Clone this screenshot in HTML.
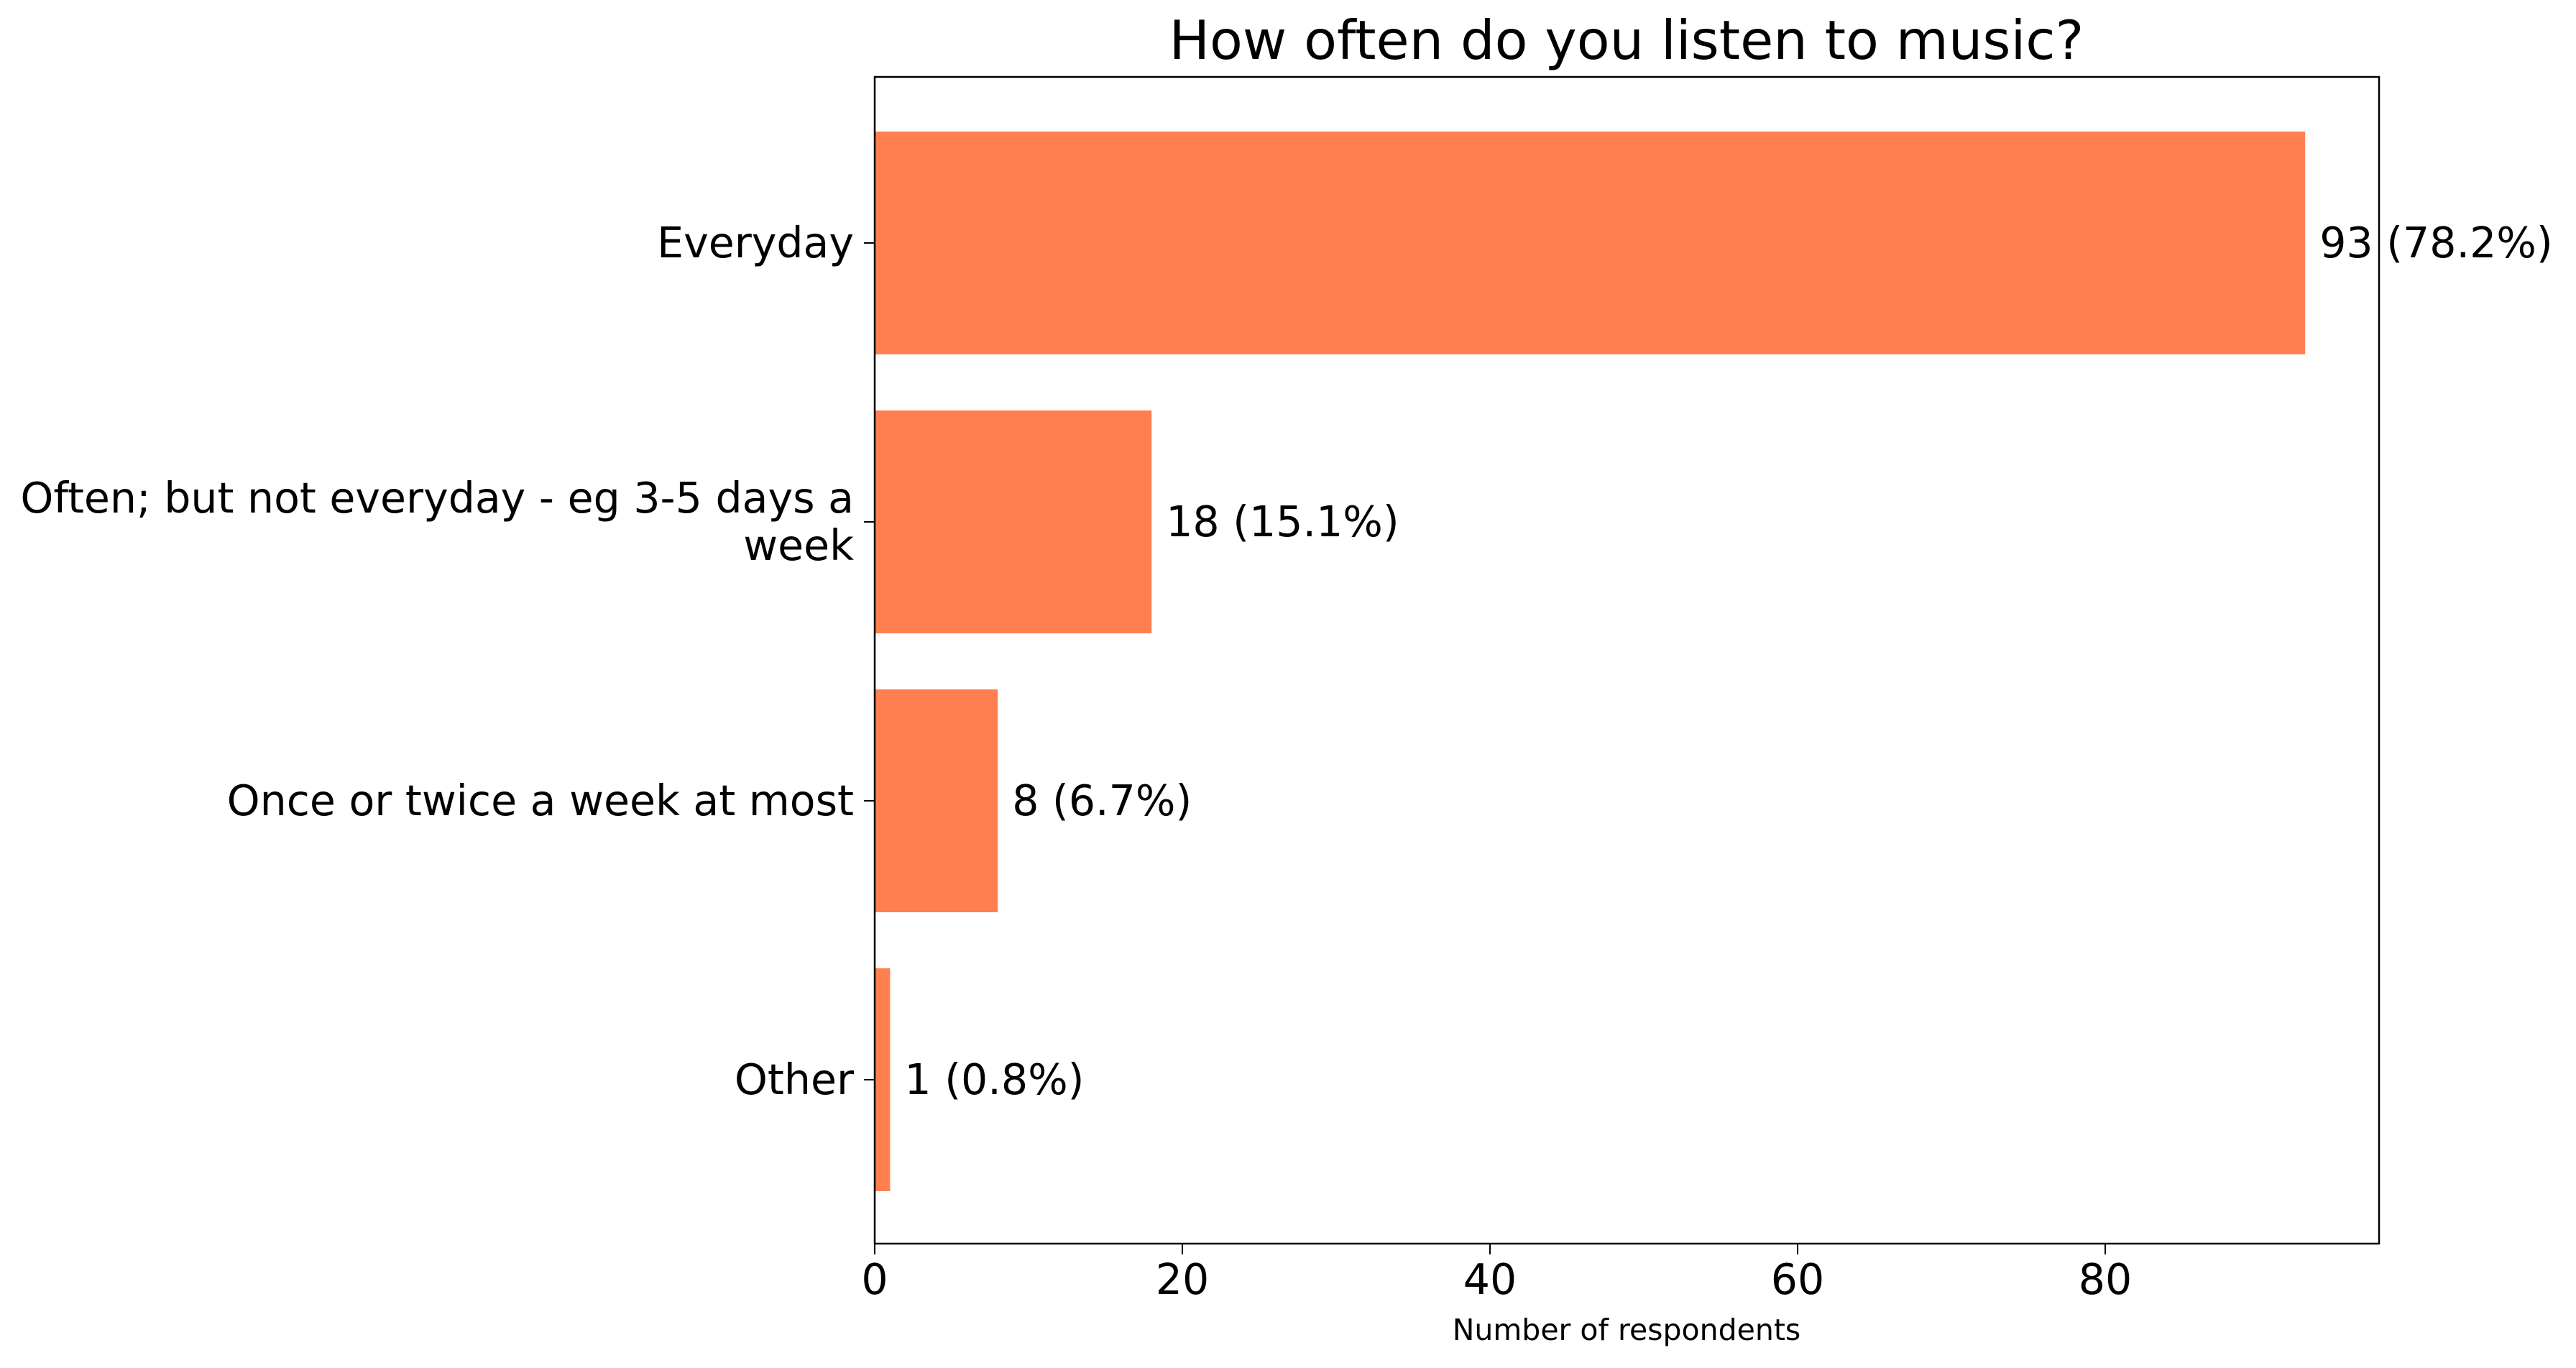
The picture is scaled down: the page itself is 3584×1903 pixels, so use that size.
<!DOCTYPE html>
<html><head><meta charset="utf-8"><style>
html,body{margin:0;padding:0;background:#fff;}
svg{display:block;font-family:"DejaVu Sans","Liberation Sans",sans-serif;}
</style></head><body>
<svg id="chart" width="3584" height="1903" viewBox="0 0 3584 1903">
<rect width="3584" height="1903" fill="#fff"/>
<text x="2263" y="82" font-size="75" text-anchor="middle">How often do you listen to music?</text>
<g id="bars"></g>
<g id="xticks"></g>
<g id="yticks"></g>
<rect x="1217" y="107" width="2093" height="1623" fill="none" stroke="#000" stroke-width="2.5"/>
<text x="2263" y="1864" font-size="41" text-anchor="middle">Number of respondents</text>
</svg>
<script>
const categories = ["Everyday", "Often; but not everyday - eg 3-5 days a|week", "Once or twice a week at most", "Other"];
const values = [93, 18, 8, 1];
const valueLabels = ["93 (78.2%)", "18 (15.1%)", "8 (6.7%)", "1 (0.8%)"];
const xTicks = [0, 20, 40, 60, 80];

const NS = "http://www.w3.org/2000/svg";
const x = v => 1217 + v * 21.4;
const y = i => 338 + i * 388;
const bh = 310;
const FS = 58.5;
function mk(tag, attrs, parent) {
  const e = document.createElementNS(NS, tag);
  for (const k in attrs) e.setAttribute(k, attrs[k]);
  parent.appendChild(e);
  return e;
}
const gb = document.getElementById("bars");
const gx = document.getElementById("xticks");
const gy = document.getElementById("yticks");
values.forEach((v, i) => {
  const r = mk("rect", {x: x(0), y: y(i) - bh / 2, width: x(v) - x(0), height: bh, fill: "#ff7f50"}, gb);
  
  
  const t = mk("text", {x: x(v) + 20, y: y(i) + 20, "font-size": FS}, gb);
  t.textContent = valueLabels[i];
  
  
});
xTicks.forEach(v => {
  const l = mk("line", {x1: x(v), x2: x(v), y1: 1730, y2: 1745, stroke: "#000", "stroke-width": 2}, gx);
  
  
  const t = mk("text", {x: x(v), y: 1800, "font-size": FS, "text-anchor": "middle"}, gx);
  t.textContent = v;
  
  
});
categories.forEach((c, i) => {
  const l = mk("line", {x1: 1202, x2: 1217, y1: y(i), y2: y(i), stroke: "#000", "stroke-width": 2}, gy);
  
  
  const lines = c.split("|");
  lines.forEach((s, j) => {
    const t = mk("text", {x: 1188, y: y(i) + 20 + (j - (lines.length - 1) / 2) * 66, "font-size": FS, "text-anchor": "end"}, gy);
    t.textContent = s;
    
    
  });
});
</script>
</body></html>
